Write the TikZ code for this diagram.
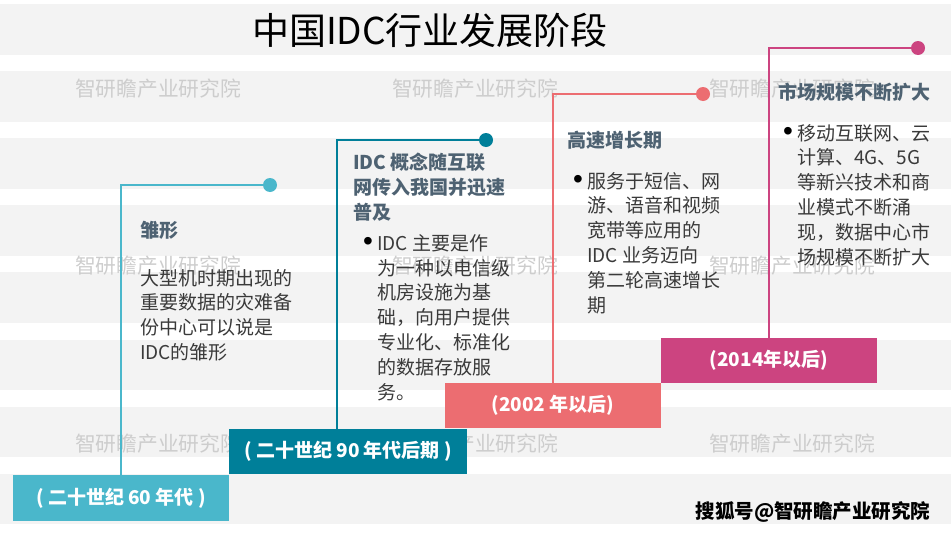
\documentclass[tikz,border=0pt]{standalone}
\usepackage{fontspec}
\setmainfont{Noto Sans CJK SC}
\newfontfamily\bulletfont{Liberation Sans}
\usetikzlibrary{positioning}

\definecolor{stripe}{HTML}{F3F3F3}
\definecolor{wmgray}{HTML}{CDCDCD}
\definecolor{headgray}{HTML}{4E6272}
\definecolor{bodygray}{HTML}{3A3A3A}
\definecolor{c60}{HTML}{4AB7CB}
\definecolor{c90}{HTML}{007F99}
\definecolor{c02}{HTML}{EC6D71}
\definecolor{c14}{HTML}{CC4480}

\newcommand{\stagelines}[1]{\begin{tabular}[t]{@{}l@{}}#1\end{tabular}}
\newcommand{\stagepoint}[1]{\makebox[14pt][l]{\color{black}\bulletfont\fontsize{28}{24}\selectfont •}\stagelines{#1}}

\begin{document}
\begin{tikzpicture}[
    x=1pt, y=-1pt,
    every node/.style={inner sep=0pt},
    heading/.style={
        anchor=north west,
        text=headgray,
        font=\fontsize{19}{24.8}\selectfont\bfseries
      },
    body/.style={
        anchor=north west,
        text=bodygray,
        font=\fontsize{19}{24.8}\selectfont
      },
    period/.style={
        text=white,
        font=\fontsize{19}{22}\selectfont\bfseries,
        minimum height=45pt
      },
    dot/.style={circle, minimum size=14pt},
    wmark/.style={anchor=west, text=wmgray, font=\fontsize{20.75}{22}\selectfont},
    link/.style={line width=2pt}
    ]

    \useasboundingbox (0,0) rectangle (951,533);

    % ============= FOND ==================
    \foreach \i in {0,...,7}
      \fill[stripe] (0,{4+67.1*\i}) rectangle (951,{54.5+67.1*\i});

    \foreach \wx in {75,392,709}
      \foreach \wy in {89,266,444}
        \node[wmark] at (\wx,\wy) {智研瞻产业研究院};

    % ============= TITRE ==================
    \node[font=\fontsize{37}{40}\selectfont] (title) at (430,30) {中国IDC行业发展阶段};

    % ============= PERIODES ==================

    % -------------------------------
    \node[period, fill=c60, minimum width=216pt, minimum height=46pt] (p60) at (121,498)
      {( 二十世纪 60 年代 )};
    \node[period, fill=c90, minimum width=238pt] (p90) at (348,451.5)
      {( 二十世纪 90 年代后期 )};
    \node[period, fill=c02, minimum width=216pt] (p02) at (553,405.5)
      {(2002 年以后)};
    \node[period, fill=c14, minimum width=216pt] (p14) at (769,360.5)
      {(2014年以后)};
    % -------------------------------

    % -------------------------------
    \node[dot, fill=c60] (d60) at (270,185) {};
    \node[dot, fill=c90] (d90) at (486,140) {};
    \node[dot, fill=c02] (d02) at (703,94) {};
    \node[dot, fill=c14] (d14) at (918,48) {};
    % -------------------------------

    % ============= TEXTES ==================

    % -------------------------------
    \node[heading] (t60) at (140,220) {\stagelines{雏形}};
    \node[body, below right=22.3pt and 0pt of t60.south west] (b60) {
      \stagelines{大型机时期出现的\\重要数据的灾难备\\份中心可以说是\\IDC的雏形}
    };
    % -------------------------------

    % -------------------------------
    \node[heading] (t90) at (353,152) {
      \stagelines{IDC 概念随互联\\网传入我国并迅速\\普及}
    };
    \node[body, below right=5.9pt and 10pt of t90.south west] (b90) {
      \stagepoint{IDC 主要是作\\为一种以电信级\\机房设施为基\\础，向用户提供\\专业化、标准化\\的数据存放服\\务。}
    };
    % -------------------------------

    % -------------------------------
    \node[heading] (t02) at (567,130) {\stagelines{高速增长期}};
    \node[body, below right=15.3pt and 6pt of t02.south west] (b02) {
      \stagepoint{服务于短信、网\\游、语音和视频\\宽带等应用的\\IDC 业务迈向\\第二轮高速增长\\期}
    };
    % -------------------------------

    % -------------------------------
    \node[heading] (t14) at (778,82) {\stagelines{市场规模不断扩大}};
    \node[body, below right=15.3pt and 5pt of t14.south west] (b14) {
      \stagepoint{移动互联网、云\\计算、4G、5G\\等新兴技术和商\\业模式不断涌\\现，数据中心市\\场规模不断扩大}
    };
    % -------------------------------

    \node[font=\fontsize{19.5}{22}\selectfont\bfseries] (src) at (813,512) {搜狐号@智研瞻产业研究院};

    % ============= LIGNES ==================
    \draw[link, c60] (p60) |- (d60);
    \draw[link, c90] ([xshift=-11pt]p90.north) |- (d90);
    \draw[link, c02] (p02) |- (d02);
    \draw[link, c14] (p14) |- (d14);

  \end{tikzpicture}
\end{document}
